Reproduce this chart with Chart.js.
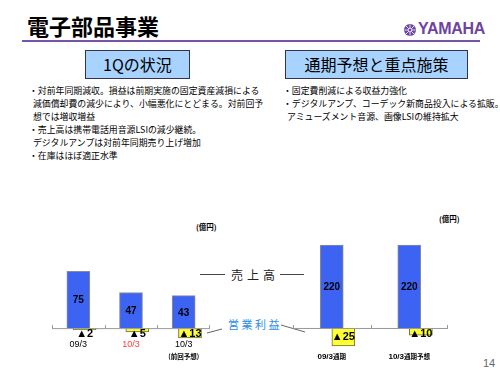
<!DOCTYPE html>
<html>
<head>
<meta charset="utf-8">
<script src="https://cdn.jsdelivr.net/npm/chart.js@4.4.1/dist/chart.umd.min.js"></script>
<style>
  body { margin: 0; background: #fff; }
  #page { position: relative; width: 500px; height: 375px; overflow: hidden; font-family: "Noto Sans CJK JP", sans-serif; color: #000; }
  .abs { position: absolute; white-space: nowrap; }
  .title { left: 27px; top: 12px; font-size: 22px; font-weight: bold; line-height: 26px; }
  .rule { left: 22px; top: 40px; width: 458px; height: 2px; background: #7a52a6; }
  .logo { left: 418px; top: 20px; font-family: "Liberation Sans Narrow", "Liberation Sans", sans-serif; font-weight: bold; font-size: 16px; color: #6d44a0; letter-spacing: -0.3px; }
  .box { top: 50px; height: 27px; background: #a8d3ff; border: 1px solid #33334d; font-size: 16px; text-align: center; line-height: 27px; }
  .bul { font-size: 8.9px; line-height: 13px; }
  .unit { font-size: 7.5px; font-weight: bold; }
  canvas { position: absolute; }
</style>
</head>
<body>
<div id="page">
  <div class="abs title">電子部品事業</div>
  <div class="abs rule"></div>
  <svg class="abs" style="left:403px;top:23px" width="14" height="14">
    <circle cx="7" cy="7" r="6" fill="#6d44a0"/>
    <circle cx="7" cy="7" r="2" fill="none" stroke="#fff" stroke-width="1"/>
    <path d="M7 1.5V4.5M7 9.5V12.5M1.5 7H4.5M9.5 7H12.5M3 3L5 5M9 9L11 11M11 3L9 5M5 9L3 11" stroke="#fff" stroke-width="0.8"/>
  </svg>
  <div class="abs logo">YAMAHA</div>

  <div class="abs box" style="left:85px;width:103px">1Qの状況</div>
  <div class="abs box" style="left:285px;width:181px">通期予想と重点施策</div>

  <div class="abs bul" style="left:29px;top:84px">
    ・対前年同期減収。損益は前期実施の固定資産減損による<br>
    &nbsp;&nbsp;減価償却費の減少により、小幅悪化にとどまる。対前回予<br>
    &nbsp;&nbsp;想では増収増益<br>
    ・売上高は携帯電話用音源LSIの減少継続。<br>
    &nbsp;&nbsp;デジタルアンプは対前年同期売り上げ増加<br>
    ・在庫はほぼ適正水準
  </div>
  <div class="abs bul" style="left:283px;top:84px">
    ・固定費削減による収益力強化<br>
    ・デジタルアンプ、コーデック新商品投入による拡販。<br>
    &nbsp;&nbsp;アミューズメント音源、画像LSIの維持拡大
  </div>

  <div class="abs unit" style="left:196px;top:221px">(億円)</div>
  <div class="abs unit" style="left:439px;top:213px">(億円)</div>

  <svg class="abs" style="left:0;top:0" width="500" height="375">
    <line x1="200" y1="274.5" x2="225" y2="274.5" stroke="#444" stroke-width="1"/>
    <line x1="280" y1="274.5" x2="304" y2="274.5" stroke="#444" stroke-width="1"/>
    <line x1="207" y1="333" x2="222" y2="329" stroke="#666" stroke-width="1"/>
    <line x1="281" y1="325" x2="305" y2="332" stroke="#666" stroke-width="1"/>
  </svg>
  <div class="abs" style="left:231px;top:266px;font-size:12px;letter-spacing:4px;color:#222">売上高</div>
  <div class="abs" style="left:228px;top:316px;font-size:11px;letter-spacing:2.5px;color:#2a8de6">営業利益</div>

  <canvas id="left" width="158" height="125" style="left:52px;top:241px"></canvas>
  <canvas id="right" width="155" height="125" style="left:293px;top:241px"></canvas>

  <div class="abs" style="left:483px;top:357px;font-size:11px;color:#666;font-family:'Liberation Sans',sans-serif">14</div>
</div>

<script>
// 1Q (left) : sales and operating income, 億円
var qLabels = ['09/3', '10/3', '10/3'];
var qSubLabels = ['', '', '(前回予想)'];
var qLabelColors = ['#000', '#ff3b3b', '#000'];
var qSales = [75, 47, 43];
var qProfit = [-2, -5, -13];

// full year (right)
var fyLabels = ['09/3', '10/3'];
var fySuffix = ['通期', '通期予想'];
var fySales = [220, 220];
var fyProfit = [-25, -10];

var jp = '"Noto Sans CJK JP", sans-serif';
var blue = '#3c63f2';
var yellow = '#ffff33';

var decorate = {
    id: 'decorate',
    afterDatasetsDraw: function (chart, args, opts) {
        var ctx = chart.ctx;
        var x = chart.scales.x;
        var zero = chart.scales.y.getPixelForValue(0);
        var area = chart.chartArea;
        var n = chart.data.labels.length;
        var step = (area.right - area.left) / n;
        ctx.save();
        // axis line with small boundary ticks
        ctx.strokeStyle = '#999';
        ctx.lineWidth = 1;
        ctx.beginPath();
        ctx.moveTo(area.left, zero + 0.5);
        ctx.lineTo(area.right, zero + 0.5);
        for (var i = 0; i <= n; i++) {
            var bx = Math.round(area.left + i * step) + 0.5;
            if (i === n) bx -= 1;
            ctx.moveTo(bx, zero + 0.5);
            ctx.lineTo(bx, zero - 3);
        }
        ctx.stroke();

        ctx.textAlign = 'center';
        ctx.textBaseline = 'middle';
        // sales values inside bars
        ctx.fillStyle = '#000';
        ctx.font = 'bold 10px "Liberation Sans", sans-serif';
        chart.getDatasetMeta(0).data.forEach(function (bar, i) {
            ctx.fillText(chart.data.datasets[0].data[i], bar.x, (bar.y + bar.base) / 2 + 1);
        });
        // operating income, negative shown with ▲
        ctx.font = 'bold 11px "Liberation Sans", sans-serif';
        chart.getDatasetMeta(1).data.forEach(function (bar, i) {
            var v = chart.data.datasets[1].data[i].y;
            var ty = Math.max((bar.y + bar.base) / 2, zero + 5.5);
            ctx.fillText((v < 0 ? '▲' : '') + Math.abs(v), bar.x, ty);
        });
        // category labels
        chart.data.labels.forEach(function (lab, i) {
            var cx = x.getPixelForValue(i);
            if (opts.suffix) {
                ctx.font = 'bold 8px "Liberation Sans", sans-serif';
                var w1 = ctx.measureText(lab).width;
                ctx.font = 'bold 6.5px ' + jp;
                var w2 = ctx.measureText(opts.suffix[i]).width;
                var sx = cx - (w1 + w2) / 2;
                ctx.textAlign = 'left';
                ctx.fillStyle = '#000';
                ctx.font = 'bold 8px "Liberation Sans", sans-serif';
                ctx.fillText(lab, sx, zero + 29);
                ctx.font = 'bold 6.5px ' + jp;
                ctx.fillText(opts.suffix[i], sx + w1, zero + 29);
                ctx.textAlign = 'center';
            } else {
                ctx.fillStyle = opts.colors[i];
                ctx.font = '9px "Liberation Sans", sans-serif';
                ctx.fillText(lab, cx, zero + 16);
                if (opts.sub[i]) {
                    ctx.fillStyle = '#000';
                    ctx.font = 'bold 6.5px ' + jp;
                    ctx.fillText(opts.sub[i], cx, zero + 28);
                }
            }
        });
        ctx.restore();
    }
};

function makeChart(id, labels, sales, profit, cfg) {
    var scales = {
        x: { type: 'category', display: false },
        // yellow bars sit a little to the right of the blue ones
        x2: {
            type: 'linear', display: false, offset: false, grid: { offset: false },
            min: -0.5 - cfg.shift, max: labels.length - 0.5 - cfg.shift
        },
        y: { display: false, min: cfg.yMin, max: cfg.yMax }
    };
    if (cfg.y2) scales.y2 = { display: false, min: cfg.y2[0], max: cfg.y2[1] };
    return new Chart(document.getElementById(id), {
        type: 'bar',
        data: {
            labels: labels,
            datasets: [{
                label: '売上高',
                data: sales,
                backgroundColor: blue,
                borderColor: '#8c8c8c',
                borderWidth: 1,
                barThickness: 23,
                grouped: false
            }, {
                label: '営業利益',
                data: profit.map(function (v, i) { return { x: i, y: v }; }),
                xAxisID: 'x2',
                yAxisID: cfg.y2 ? 'y2' : 'y',
                backgroundColor: yellow,
                borderColor: '#6b6b3a',
                borderWidth: 1,
                barThickness: 23,
                grouped: false
            }]
        },
        options: {
            responsive: false,
            animation: false,
            layout: { padding: 0 },
            scales: scales,
            plugins: {
                legend: { display: false },
                tooltip: { enabled: false },
                decorate: cfg.deco
            }
        },
        plugins: [decorate]
    });
}

makeChart('left', qLabels, qSales, qProfit, {
    shift: 0.12, yMin: -50, yMax: 115,
    deco: { colors: qLabelColors, sub: qSubLabels }
});
makeChart('right', fyLabels, fySales, fyProfit, {
    shift: 0.15, yMin: -101, yMax: 231, y2: [-53, 121],
    deco: { suffix: fySuffix }
});
</script>
</body>
</html>
